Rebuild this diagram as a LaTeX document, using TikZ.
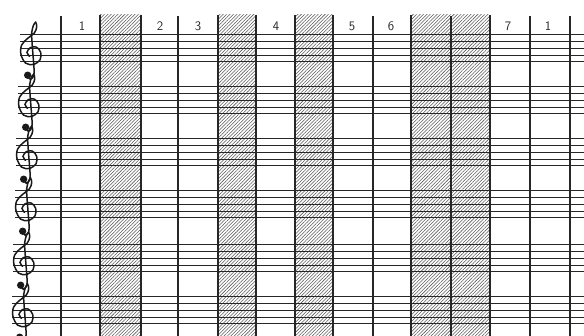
\documentclass[tikz,border=0pt]{standalone}
\usetikzlibrary{patterns.meta}
\begin{document}
\begin{tikzpicture}[
    x=1pt, y=-1pt,
    staffline/.style={line width=1pt, black!85},
    bar/.style={line width=1.1pt, black!85},
    shade/.style={pattern={Lines[angle=45, distance=2.4pt, line width=0.55pt]}, pattern color=black!65},
    num/.style={font=\sffamily\fontsize{13}{13}\selectfont, black!85, inner sep=0pt},
    gclef/.pic={
      \begin{scope}[x=6.7pt, y=6.7pt]
        \draw[line width=1.5pt, line cap=round, black!90] plot[smooth, tension=0.55] coordinates {
          (-0.6,-2.0) (-0.1,-2.6) (0.4,-2.1) (0.45,-1.0) (0.3,1.0) (0.15,3.0)
          (0.1,4.3) (0.35,5.4) (0.7,5.9) (0.85,5.2) (0.5,4.3) (-0.5,3.5)
          (-1.4,2.5) (-1.5,1.1) (-0.8,-0.2) (0.4,-0.4) (1.35,0.3) (1.45,1.4)
          (0.8,2.2) (-0.1,2.1) (-0.6,1.4) (-0.2,0.8)};
        \fill[black!90] (-0.5,-2.0) circle (0.55);
      \end{scope}
    }
]
\clip (0,0) rectangle (584,336);

% Hatched columns
\foreach \a/\b in {100/141, 218/256, 295/333, 411/490} {
  \fill[shade] (\a,15) rectangle (\b,336);
  \draw[bar] (\a,15) -- (\a,336) (\b,15) -- (\b,336);
}

% Staves with clefs
\foreach \top/\s in {35/20, 87/18, 139/16, 191/15, 245/13, 297/12} {
  \foreach \k in {0,...,4}
    \draw[staffline] (\s,\top+6.7*\k) -- (584,\top+6.7*\k);
  \pic at (\s+11,\top+26.8) {gclef};
}

% Bar lines
\foreach \x in {61, 178, 373, 451, 530, 570}
  \draw[bar] (\x,16) -- (\x,336);

% Column numbers
\node[num] (n1) at (82,26) {1};
\node[num] (n2) at (160,26) {2};
\node[num] (n3) at (198,26) {3};
\node[num] (n4) at (276,26) {4};
\node[num] (n5) at (352,26) {5};
\node[num] (n6) at (391,26) {6};
\node[num] (n7) at (508,26) {7};
\node[num] (n8) at (548,26) {1};
\end{tikzpicture}
\end{document}
